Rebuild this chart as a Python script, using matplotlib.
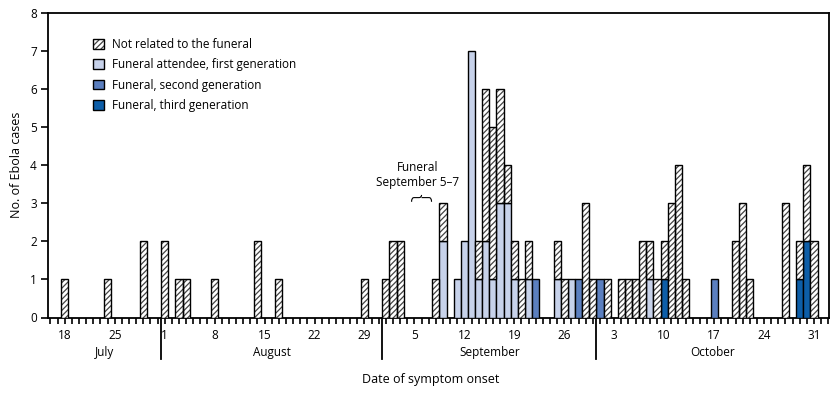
import matplotlib
matplotlib.use("Agg")
import matplotlib.pyplot as plt
import matplotlib.dates as mdates
from matplotlib.patches import Patch, PathPatch
from matplotlib.path import Path
from matplotlib.legend_handler import HandlerTuple
import numpy as np
import pandas as pd

plt.rcParams['font.family'] = ['Open Sans', 'DejaVu Sans']
plt.rcParams['hatch.linewidth'] = 0.9

# ---------------- data ----------------
dates = ["2014-07-18", "2014-07-24", "2014-07-29", "2014-08-01", "2014-08-03", "2014-08-04",
         "2014-08-08", "2014-08-14", "2014-08-17", "2014-08-29", "2014-09-01", "2014-09-02",
         "2014-09-03", "2014-09-08", "2014-09-09", "2014-09-11", "2014-09-12", "2014-09-13",
         "2014-09-14", "2014-09-15", "2014-09-16", "2014-09-17", "2014-09-18", "2014-09-19",
         "2014-09-20", "2014-09-21", "2014-09-22", "2014-09-25", "2014-09-26", "2014-09-27",
         "2014-09-28", "2014-09-29", "2014-09-30", "2014-10-01", "2014-10-02", "2014-10-04",
         "2014-10-05", "2014-10-06", "2014-10-07", "2014-10-08", "2014-10-09", "2014-10-10",
         "2014-10-11", "2014-10-12", "2014-10-13", "2014-10-17", "2014-10-20", "2014-10-21",
         "2014-10-22", "2014-10-27", "2014-10-29", "2014-10-30", "2014-10-31"]
first_gen = [0, 0, 0, 0, 0, 0,
             0, 0, 0, 0, 0, 0,
             0, 0, 2, 1, 2, 7,
             1, 2, 1, 3, 3, 1,
             0, 1, 0, 1, 0, 1,
             0, 0, 0, 0, 0, 0,
             0, 0, 0, 1, 0, 0,
             0, 0, 0, 0, 0, 0,
             0, 0, 0, 0, 0]
second_gen = [0, 0, 0, 0, 0, 0,
              0, 0, 0, 0, 0, 0,
              0, 0, 0, 0, 0, 0,
              0, 0, 0, 0, 0, 0,
              0, 0, 1, 0, 0, 0,
              1, 0, 0, 1, 0, 0,
              0, 0, 0, 0, 0, 0,
              0, 0, 0, 1, 0, 0,
              0, 0, 0, 0, 0]
third_gen = [0, 0, 0, 0, 0, 0,
             0, 0, 0, 0, 0, 0,
             0, 0, 0, 0, 0, 0,
             0, 0, 0, 0, 0, 0,
             0, 0, 0, 0, 0, 0,
             0, 0, 0, 0, 0, 0,
             0, 0, 0, 0, 0, 1,
             0, 0, 0, 0, 0, 0,
             0, 0, 1, 2, 0]
not_related = [1, 1, 2, 2, 1, 1,
               1, 2, 1, 1, 1, 2,
               2, 1, 1, 0, 0, 0,
               1, 4, 4, 3, 1, 1,
               1, 1, 0, 1, 1, 0,
               0, 3, 1, 0, 1, 1,
               1, 1, 2, 1, 1, 1,
               3, 4, 1, 0, 2, 3,
               1, 3, 1, 2, 2]

tick_dates = ["2014-07-18", "2014-07-25", "2014-08-01", "2014-08-08", "2014-08-15",
              "2014-08-22", "2014-08-29", "2014-09-05", "2014-09-12", "2014-09-19",
              "2014-09-26", "2014-10-03", "2014-10-10", "2014-10-17", "2014-10-24",
              "2014-10-31"]
tick_labels = ["18", "25", "1", "8", "15", "22", "29", "5", "12", "19", "26",
               "3", "10", "17", "24", "31"]
months = ["July", "August", "September", "October"]
month_bounds = ["2014-07-31", "2014-08-31", "2014-09-30"]

legend_labels = ["Not related to the funeral", "Funeral attendee, first generation",
                 "Funeral, second generation", "Funeral, third generation"]

c_first = "#c7d2ea"
c_second = "#5b7fbf"
c_third = "#0d5ea8"
hatch_col = "#444444"
HATCH = "//////"

# ---------------- figure ----------------
fig = plt.figure(figsize=(8.39, 3.94), dpi=100)
W, H = 839, 394
ax_l, ax_r, ax_t, ax_b = 48, 829, 13, 317.5
ax = fig.add_axes([ax_l / W, 1 - ax_b / H, (ax_r - ax_l) / W, (ax_b - ax_t) / H])

x = mdates.date2num(pd.to_datetime(dates))
f1 = np.array(first_gen)
f2 = np.array(second_gen)
f3 = np.array(third_gen)
nr = np.array(not_related)
lw = 1.0

bottom = np.zeros(len(x))
for vals, col in [(f1, c_first), (f2, c_second), (f3, c_third)]:
    m = vals > 0
    ax.bar(x[m], vals[m], width=1.0, bottom=bottom[m], color=col,
           edgecolor="black", linewidth=lw, zorder=3)
    bottom = bottom + vals
m = nr > 0
ax.bar(x[m], nr[m], width=1.0, bottom=bottom[m], facecolor="white",
       edgecolor=hatch_col, hatch=HATCH, linewidth=0, zorder=3)
ax.bar(x[m], nr[m], width=1.0, bottom=bottom[m], fill=False,
       edgecolor="black", linewidth=lw, zorder=4)

# axes limits & spines
start = mdates.date2num(pd.Timestamp("2014-07-18"))
end = mdates.date2num(pd.Timestamp("2014-10-31"))
xlo, xhi = start - 2.35, end + 2.1
ax.set_xlim(xlo, xhi)
ax.set_ylim(0, 8)
for s in ax.spines.values():
    s.set_linewidth(1.3)

ax.set_yticks(range(0, 9))
ax.tick_params(axis="y", direction="out", length=5, width=1.2, labelsize=8.5, pad=3)

tx = mdates.date2num(pd.to_datetime(tick_dates))
ax.set_xticks(tx)
ax.set_xticklabels(tick_labels)
minor = np.arange(np.ceil(xlo), xhi, 1.0)
ax.set_xticks(minor, minor=True)
ax.tick_params(axis="x", which="both", direction="out", length=4, width=1.2,
               labelsize=8.5, pad=4)

# month dividers and month names
trans = ax.get_xaxis_transform()
bx = [mdates.date2num(pd.Timestamp(b)) + 0.5 for b in month_bounds]
for xb in bx:
    ax.plot([xb, xb], [0, -0.135], transform=trans, color="black", lw=1.3,
            clip_on=False)
edges = [xlo] + bx + [xhi]
for i, mname in enumerate(months):
    xm = (edges[i] + edges[i + 1]) / 2
    ax.text(xm, -0.115, mname, transform=trans, ha="center", va="center", fontsize=8.5)

ax.text(0.49, -0.205, "Date of symptom onset", transform=ax.transAxes,
        ha="center", va="center", fontsize=9)
ax.set_ylabel("No. of Ebola cases", fontsize=9, labelpad=5)

# funeral annotation with a curly brace
fx = mdates.date2num(pd.Timestamp("2014-09-06"))
ax.text(fx - 0.6, 3.75, "Funeral\nSeptember 5\u20137", ha="center", va="center",
        fontsize=8.5, linespacing=1.15)
x0, x1, xm = fx - 1.4, fx + 1.4, fx
yb, yt = 3.04, 3.22
ym = yt - 0.07
verts = [(x0, yb), (x0, ym), (x0 + 0.35, ym),
         (xm - 0.35, ym),
         (xm, ym), (xm, yt),
         (xm, ym), (xm + 0.35, ym),
         (x1 - 0.35, ym),
         (x1, ym), (x1, yb)]
codes = [Path.MOVETO, Path.CURVE3, Path.CURVE3,
         Path.LINETO,
         Path.CURVE3, Path.CURVE3,
         Path.MOVETO, Path.CURVE3, Path.CURVE3,
         Path.LINETO,
         Path.CURVE3]
codes = codes[:len(verts)]
codes[-2], codes[-1] = Path.CURVE3, Path.CURVE3
ax.add_patch(PathPatch(Path(verts, codes), fill=False, edgecolor="black", lw=0.8, zorder=5))

# legend
h_nr = (Patch(facecolor="white", edgecolor=hatch_col, hatch=HATCH, linewidth=0),
        Patch(fill=False, edgecolor="black", linewidth=1.0))
h1 = Patch(facecolor=c_first, edgecolor="black", linewidth=1.0)
h2 = Patch(facecolor=c_second, edgecolor="black", linewidth=1.0)
h3 = Patch(facecolor=c_third, edgecolor="black", linewidth=1.0)
ax.legend([h_nr, h1, h2, h3], legend_labels, loc="upper left",
          bbox_to_anchor=(93 / W, 1 - 38 / H), bbox_transform=fig.transFigure,
          frameon=False, fontsize=8.5, handlelength=0.9, handleheight=0.9,
          handletextpad=0.7, labelspacing=0.62, borderpad=0, borderaxespad=0,
          handler_map={tuple: HandlerTuple(ndivide=1, pad=0)})

fig.savefig("out.png", dpi=100)
